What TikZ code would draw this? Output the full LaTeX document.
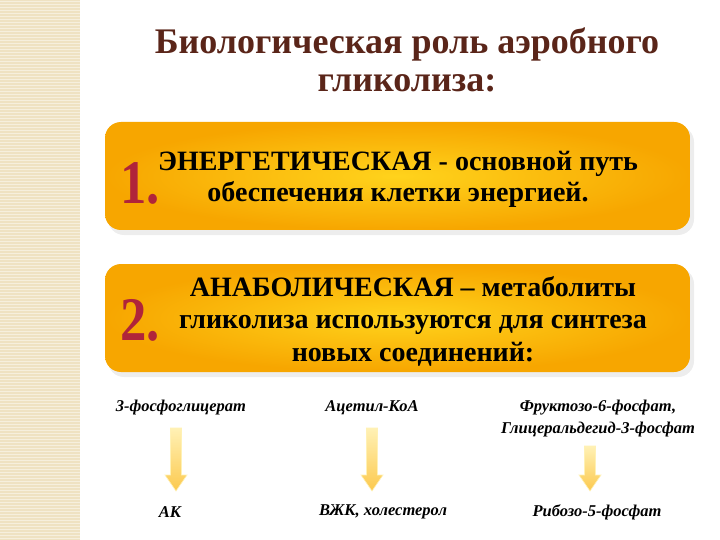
\documentclass[tikz,border=0pt]{standalone}
\usepackage{fontspec}
\setmainfont{Liberation Serif}
\usetikzlibrary{positioning,calc}

\definecolor{stripe}{HTML}{EFE2C2}
\definecolor{titlebrown}{HTML}{5A2519}
\definecolor{boxorange}{HTML}{F7A600}
\definecolor{boxyellow}{HTML}{FFD31C}
\definecolor{numred}{HTML}{B0243A}
\definecolor{arrowtop}{HTML}{FFF1B5}
\definecolor{arrowbot}{HTML}{FCC94E}

\tikzset{
	titletext/.style={font=\bfseries\fontsize{36}{38}\selectfont, text=titlebrown, align=center},
	boxtext/.style={font=\bfseries\fontsize{28}{31}\selectfont, align=center},
	numtext/.style={font=\bfseries\fontsize{62}{62}\selectfont, anchor=base west, inner sep=0pt},
	chemtext/.style={font=\bfseries\itshape\fontsize{16.5}{22}\selectfont, align=center},
	rolebox/.style={rounded corners=16pt, inner color=boxyellow, outer color=boxorange,
		minimum width=585pt, minimum height=108pt},
	arrowfill/.style={top color=arrowtop, bottom color=arrowbot, draw=arrowtop, line width=0.6pt}
}

% block arrow from #1 down to #2
\newcommand{\fatarrow}[2]{%
	\shade[arrowfill] ($(#1)+(-5.5,0)$) -- ($(#2)+(-5.5,-16)$) -- ($(#2)+(-11,-16)$) -- (#2)
		-- ($(#2)+(11,-16)$) -- ($(#2)+(5.5,-16)$) -- ($(#1)+(5.5,0)$) -- cycle;}

% big number
\newcommand{\bignum}[3]{%
	\node[numtext, text=numred] (#1) at (#2) {\scalebox{0.85}[1]{#3}};}

\begin{document}
\begin{tikzpicture}[x=1pt, y=-1pt]
	\useasboundingbox (0,0) rectangle (720,540);
	\fill[white] (0,0) rectangle (720,540);
	
	% striped band on the left
	\fill[stripe] (0,0) rectangle (80,540);
	\foreach \y in {1,4,...,540}
		\draw[white, opacity=0.45, line width=0.8pt] (0,\y) -- (80,\y);
	
	\node[titletext] (title) at (407,60) {Биологическая роль аэробного\\гликолиза:};
	
	% the two boxes
	\fill[black, opacity=0.07, rounded corners=16pt] (108,126) rectangle (694,235);
	\fill[black, opacity=0.07, rounded corners=16pt] (108,268) rectangle (694,377);
	\node[rolebox] (role1) at (397.5,176) {};
	\node[rolebox] (role2) at (397.5,318) {};
	
	\coordinate (n1) at (120,204);
	\coordinate (n2) at (120,340);
	\bignum{num1}{n1}{1.}
	\bignum{num2}{n2}{2.}
	
	\node[boxtext] (energy) at (398,179) {ЭНЕРГЕТИЧЕСКАЯ - основной путь\\обеспечения клетки энергией.};
	\node[boxtext, font=\bfseries\fontsize{28}{32.5}\selectfont] (anabol) at (413,321) {АНАБОЛИЧЕСКАЯ – метаболиты\\гликолиза используются для синтеза\\новых соединений:};
	
	% metabolites
	\node[chemtext] (pga) at (181,408) {3-фосфоглицерат};
	\node[chemtext] (acoa) at (372,408) {Ацетил-КоА};
	\node[chemtext] (f6p) at (598,419) {Фруктозо-6-фосфат,\\Глицеральдегид-3-фосфат};
	
	\node[chemtext] (ak) at (170,512) {АК};
	\node[chemtext] (vzhk) at (383,512) {ВЖК, холестерол};
	\node[chemtext] (r5p) at (597,512) {Рибозо-5-фосфат};
	
	\coordinate (a1s) at (176,428);
	\coordinate (a1e) at (176,491);
	\coordinate (a2s) at (372,428);
	\coordinate (a2e) at (372,491);
	\coordinate (a3s) at (590,446);
	\coordinate (a3e) at (590,491);
	\fatarrow{a1s}{a1e}
	\fatarrow{a2s}{a2e}
	\fatarrow{a3s}{a3e}
\end{tikzpicture}
\end{document}
